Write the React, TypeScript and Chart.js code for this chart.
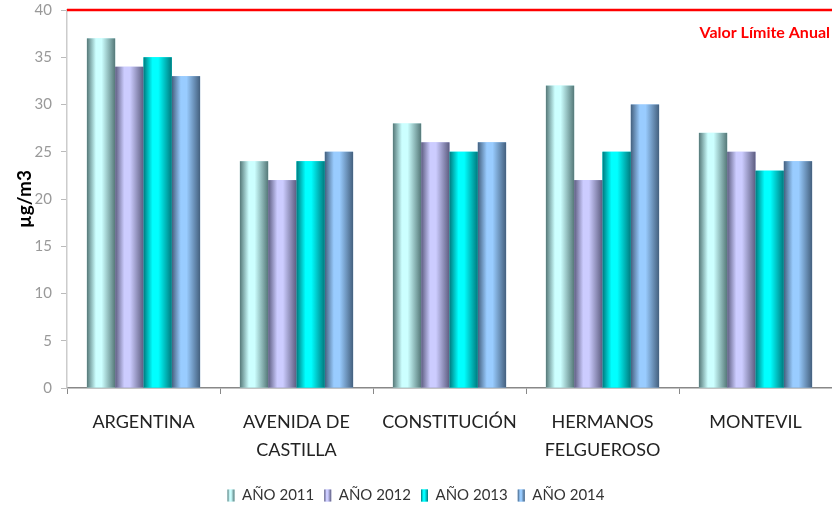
import React, { useEffect, useRef } from "react";
import { Chart, registerables } from "chart.js";

Chart.register(...registerables);

const categories: string[][] = [
  ["ARGENTINA"],
  ["AVENIDA DE", "CASTILLA"],
  ["CONSTITUCIÓN"],
  ["HERMANOS", "FELGUEROSO"],
  ["MONTEVIL"],
];
const seriesNames = ["AÑO 2011", "AÑO 2012", "AÑO 2013", "AÑO 2014"];
const values2011 = [37, 24, 28, 32, 27];
const values2012 = [34, 22, 26, 22, 25];
const values2013 = [35, 24, 25, 25, 23];
const values2014 = [33, 25, 26, 30, 24];
const limitValue = 40;
const limitLabel = "Valor Límite Anual";
const yTitle = "µg/m3";

const baseColors = ["#ccffff", "#ccccff", "#00ffff", "#99ccff"];
const darkColors = ["#557878", "#5d5d80", "#007a7e", "#44607e"];

function makeGrad(ctx: CanvasRenderingContext2D, left: number, width: number, base: string, dark: string) {
  const g = ctx.createLinearGradient(left, 0, left + width, 0);
  g.addColorStop(0, dark);
  g.addColorStop(0.32, base);
  g.addColorStop(0.52, base);
  g.addColorStop(1, dark);
  return g;
}

const cylinderPlugin = {
  id: "cylinder",
  afterDatasetsDraw(chart: any) {
    const ctx: CanvasRenderingContext2D = chart.ctx;
    ctx.save();
    chart.data.datasets.forEach((_ds: any, i: number) => {
      const meta = chart.getDatasetMeta(i);
      meta.data.forEach((el: any) => {
        const p = el.getProps(["x", "y", "base", "width"], true);
        const left = p.x - p.width / 2;
        ctx.fillStyle = makeGrad(ctx, left, p.width, baseColors[i], darkColors[i]);
        ctx.fillRect(left, p.y, p.width, p.base - p.y);
      });
    });
    ctx.restore();
  },
  afterDraw(chart: any) {
    const ctx: CanvasRenderingContext2D = chart.ctx;
    const area = chart.chartArea;
    const y = chart.scales.y.getPixelForValue(limitValue);
    ctx.save();
    ctx.strokeStyle = "#ff0000";
    ctx.lineWidth = 2.5;
    ctx.beginPath();
    ctx.moveTo(area.left, y);
    ctx.lineTo(area.right, y);
    ctx.stroke();
    ctx.fillStyle = "#ff0000";
    ctx.font = "bold 16px Lato";
    ctx.textAlign = "right";
    ctx.textBaseline = "middle";
    ctx.fillText(limitLabel, area.right - 2, chart.scales.y.getPixelForValue(37.6));
    const legend = chart.legend;
    if (legend && legend.legendHitBoxes) {
      const bw = legend.options.labels.boxWidth;
      const bh = legend.options.labels.boxHeight;
      legend.legendHitBoxes.forEach((hb: any, i: number) => {
        const top = hb.top + (hb.height - bh) / 2;
        ctx.fillStyle = makeGrad(ctx, hb.left, bw, baseColors[i], darkColors[i]);
        ctx.fillRect(hb.left, top, bw, bh);
      });
    }
    ctx.restore();
  },
};

export default function App() {
  const ref = useRef<HTMLCanvasElement>(null);
  useEffect(() => {
    document.body.style.margin = "0";
    document.body.style.background = "#ffffff";
    const seriesValues = [values2011, values2012, values2013, values2014];
    const chart = new Chart(ref.current!, {
      type: "bar",
      data: {
        labels: categories,
        datasets: seriesNames.map((name, i) => ({
          label: name,
          data: seriesValues[i],
          backgroundColor: baseColors[i],
          borderWidth: 0,
          categoryPercentage: 0.74,
          barPercentage: 1,
        })),
      },
      options: {
        animation: false,
        responsive: false,
        layout: { padding: { top: 10, right: 0, bottom: -4, left: 0 } },
        plugins: {
          tooltip: { enabled: false },
          legend: {
            position: "bottom",
            labels: {
              boxWidth: 7,
              boxHeight: 12,
              padding: 10,
              color: "#333333",
              font: { family: "Lato", size: 15 },
            },
          },
        },
        scales: {
          x: {
            grid: {
              display: true,
              drawOnChartArea: false,
              drawTicks: true,
              tickLength: 6,
              offset: true,
              color: "#888888",
            },
            border: { color: "#888888", width: 1.5 },
            ticks: {
              color: "#222222",
              font: { family: "Lato", size: 18, lineHeight: 1.55 },
              padding: 14,
              maxRotation: 0,
              autoSkip: false,
            },
            afterFit: (s: any) => {
              s.height = 90;
              s.paddingLeft = 0;
              s.paddingRight = 0;
            },
          },
          y: {
            min: 0,
            max: 40,
            ticks: {
              stepSize: 5,
              color: "#999999",
              font: { family: "Lato", size: 15 },
              padding: 9,
            },
            grid: { drawOnChartArea: false, tickLength: 6, color: "#bbbbbb" },
            border: { color: "#cccccc", width: 1.5 },
            title: {
              display: true,
              text: yTitle,
              color: "#000000",
              font: { family: "Lato", size: 19, weight: "bold" },
              padding: { top: 13, bottom: 0 },
            },
            afterFit: (s: any) => {
              s.width = 67;
              s.paddingTop = 0;
              s.paddingBottom = 0;
            },
          },
        },
      },
      plugins: [cylinderPlugin],
    } as any);
    return () => chart.destroy();
  }, []);
  return (
    <div style={{ width: 832, height: 509 }}>
      <canvas ref={ref} width={832} height={509} style={{ display: "block" }} />
    </div>
  );
}
